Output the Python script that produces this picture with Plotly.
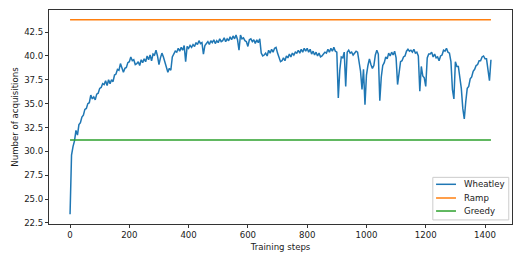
import plotly.graph_objects as go

steps = [0, 1, 2, 3, 4] + list(range(5, 1421, 5))

wheatley = [
    23.4, 25.5, 27.8, 28.6, 29.2,
    29.6, 30.5, 31.1, 32.2, 31.7, 32.8, 33.0, 33.6, 33.8, 34.4,
    34.5, 35.0, 35.1, 35.9, 35.5, 35.7, 35.4, 36.0, 36.1, 36.6,
    36.7, 37.1, 37.0, 37.4, 36.9, 37.5, 37.1, 37.5, 37.3, 38.0,
    38.1, 38.6, 38.5, 39.2, 38.6, 38.3, 38.7, 38.8, 39.3, 39.4,
    39.9, 39.5, 39.6, 39.1, 39.2, 39.4, 39.0, 39.6, 39.3, 39.7,
    39.4, 40.0, 39.6, 40.1, 39.5, 40.2, 40.1, 40.6, 40.0, 39.1,
    39.8, 40.3, 39.9, 39.3, 38.9, 38.3, 38.7, 38.5, 39.9, 40.2,
    40.5, 40.4, 40.8, 40.5, 40.9, 40.6, 41.1, 39.4, 41.0, 40.8,
    41.1, 40.9, 41.2, 41.0, 41.4, 41.2, 41.6, 41.3, 41.4, 40.2,
    41.1, 41.3, 41.5, 41.2, 41.6, 41.4, 41.7, 41.3, 41.6, 41.4,
    41.8, 41.5, 41.6, 41.9, 41.5, 41.8, 41.6, 42.0, 41.7, 42.1,
    41.8, 42.2, 41.7, 40.6, 42.2, 41.8, 41.9, 41.6, 41.5, 41.0,
    41.7, 41.8, 41.5, 41.7, 41.3, 41.7, 41.4, 41.8, 40.3, 40.0,
    40.1, 40.3, 40.0, 40.6, 40.3, 40.7, 40.4, 40.8, 40.9, 40.3,
    39.9, 39.4, 39.5, 39.8, 39.5, 40.0, 39.8, 40.2, 39.9, 40.3,
    40.1, 40.4, 40.3, 40.6, 40.3, 40.7, 40.4, 40.8, 40.5, 40.8,
    40.4, 40.7, 40.2, 40.5, 40.1, 40.4, 40.0, 40.3, 39.9, 40.0,
    40.2, 40.4, 40.3, 40.7, 40.4, 40.8, 40.5, 40.9, 40.5, 40.4,
    35.6, 38.5, 39.9, 39.8, 40.4, 36.8, 40.4, 40.6, 40.3, 40.4,
    40.1, 40.3, 40.5, 40.4, 39.3, 38.4, 36.5, 38.6, 34.9, 38.0,
    39.0, 39.7, 39.1, 38.7, 39.0, 40.1, 40.6, 40.2, 35.3, 37.8,
    39.0, 39.3, 39.9, 39.7, 40.3, 40.0, 40.4, 40.1, 40.5, 39.8,
    37.0, 38.6, 39.4, 39.5, 39.9, 40.0, 40.5, 40.7, 40.5, 40.6,
    40.4, 40.7, 40.3, 40.4, 40.0, 36.3, 38.9, 37.9, 37.7, 36.8,
    39.8, 40.2, 40.2, 40.4, 39.9, 40.2, 39.8, 39.9, 39.5, 40.0,
    40.1, 40.6, 40.5, 40.8, 40.4, 40.3, 39.4, 36.5, 35.5, 39.4,
    38.9, 38.9, 37.9, 36.6, 34.5, 33.4, 35.2, 36.6, 36.8, 37.6,
    37.8, 38.4, 38.6, 39.0, 39.1, 39.5, 39.5, 39.9, 40.0, 39.7,
    39.7, 38.6, 37.4, 39.6,
]

ramp_value = 43.8
greedy_value = 31.2

series_names = ["Wheatley", "Ramp", "Greedy"]
series_colors = ["#1f77b4", "#ff7f0e", "#2ca02c"]

x_ticks = [0, 200, 400, 600, 800, 1000, 1200, 1400]
y_ticks = [22.5, 25.0, 27.5, 30.0, 32.5, 35.0, 37.5, 40.0, 42.5]

font = "DejaVu Sans"
fs = 8.6
lw = 1.5

fig = go.Figure()
fig.add_trace(go.Scatter(x=steps, y=wheatley, mode="lines", name=series_names[0],
                         line=dict(color=series_colors[0], width=lw)))
fig.add_trace(go.Scatter(x=[steps[0], steps[-1]], y=[ramp_value, ramp_value],
                         mode="lines", name=series_names[1],
                         line=dict(color=series_colors[1], width=lw)))
fig.add_trace(go.Scatter(x=[steps[0], steps[-1]], y=[greedy_value, greedy_value],
                         mode="lines", name=series_names[2],
                         line=dict(color=series_colors[2], width=lw)))

xmin, xmax = steps[0], steps[-1]
ymin = min(wheatley)
ymax = ramp_value
xm = 0.05 * (xmax - xmin)
ym = 0.05 * (ymax - ymin)

axis_common = dict(
    showgrid=False, zeroline=False, showline=True, mirror=True,
    linecolor="#333333", linewidth=1, ticks="outside", ticklen=3,
    tickcolor="#333333", tickwidth=1,
    tickfont=dict(family=font, size=fs, color="#1a1a1a"),
)

# Matplotlib-style legend box in the lower right, drawn in plot-area (paper) coords
shapes = [dict(type="rect", xref="paper", yref="paper",
               x0=0.829, x1=0.993, y0=0.019, y1=0.218,
               line=dict(color="#cccccc", width=1), fillcolor="rgba(255,255,255,0.8)",
               layer="above")]
annotations = []
row_y = [0.1855, 0.1215, 0.0607]
for name, color, yy in zip(series_names, series_colors, row_y):
    shapes.append(dict(type="line", xref="paper", yref="paper",
                       x0=0.836, x1=0.879, y0=yy, y1=yy,
                       line=dict(color=color, width=lw), layer="above"))
    annotations.append(dict(xref="paper", yref="paper", x=0.892, y=yy,
                            xanchor="left", yanchor="middle", text=name,
                            showarrow=False,
                            font=dict(family=font, size=fs, color="#1a1a1a")))

fig.update_layout(
    width=523, height=262,
    margin=dict(l=49, r=11, t=10, b=38),
    paper_bgcolor="white", plot_bgcolor="white",
    font=dict(family=font, size=fs, color="#1a1a1a"),
    xaxis=dict(range=[xmin - xm, xmax + xm], tickvals=x_ticks,
               title=dict(text="Training steps", font=dict(family=font, size=fs), standoff=4),
               **axis_common),
    yaxis=dict(range=[ymin - ym, ymax + ym], tickvals=y_ticks, tickformat=".1f",
               title=dict(text="Number of acquisitions", font=dict(family=font, size=fs), standoff=4),
               **axis_common),
    shapes=shapes,
    annotations=annotations,
    showlegend=False,
)

fig.write_html("out.html", config={"displayModeBar": False},
               post_script="document.body.style.margin='0';document.body.style.overflow='hidden';")
